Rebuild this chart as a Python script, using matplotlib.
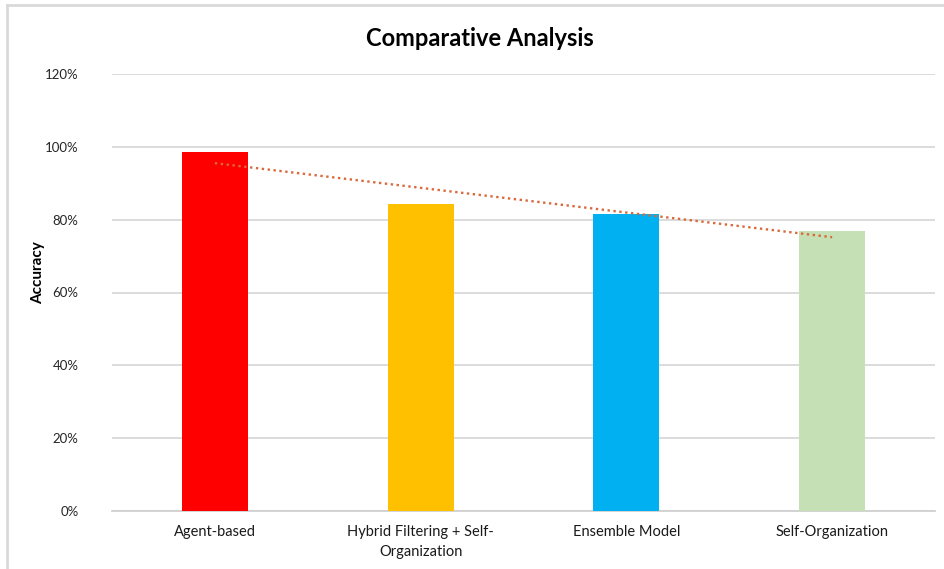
import matplotlib
matplotlib.use("Agg")
import matplotlib.pyplot as plt
import numpy as np
from matplotlib.lines import Line2D

categories = ["Agent-based", "Hybrid Filtering + Self-\nOrganization", "Ensemble Model", "Self-Organization"]
accuracy = [0.986, 0.843, 0.816, 0.769]
colors = ["#FF0000", "#FFC000", "#00B0F0", "#C5E0B4"]
yticks = [0, 0.2, 0.4, 0.6, 0.8, 1.0, 1.2]
ytick_labels = ["0%", "20%", "40%", "60%", "80%", "100%", "120%"]

plt.rcParams['font.family'] = ['Lato', 'DejaVu Sans']

fig = plt.figure(figsize=(9.44, 5.69), dpi=100)
ax = fig.add_axes([112/944, 1-511/569, (935-112)/944, (511-74)/569])

x = np.arange(len(categories))
ax.bar(x, accuracy, width=0.32, color=colors, zorder=3)

# linear trendline
coef = np.polyfit(x + 1, accuracy, 1)
trend = np.polyval(coef, x + 1)
ax.plot(x, trend, linestyle=(0, (1, 1.5)), color="#D9693A", linewidth=1.7, zorder=4)

ax.set_xlim(-0.5, 3.5)
ax.set_ylim(0, 1.2)
ax.set_yticks(yticks)
ax.set_yticklabels(ytick_labels, fontsize=9.5, color="#262626")
ax.set_xticks(x)
ax.set_xticklabels(categories, fontsize=10.5, color="#1a1a1a", linespacing=1.55)
ax.tick_params(axis='both', length=0)
ax.tick_params(axis='y', pad=24)
ax.tick_params(axis='x', pad=10)
ax.grid(axis='y', color="#D9D9D9", linewidth=1.3, zorder=0)
for s in ["top", "right", "left"]:
    ax.spines[s].set_visible(False)
ax.spines["bottom"].set_color("#D0D0D0")
ax.spines["bottom"].set_linewidth(1.3)

ax.set_ylabel("Accuracy", fontsize=11, fontweight='bold')
ax.yaxis.set_label_coords(-0.081, 0.545)
fig.text(0.5085, 1-38/569, "Comparative Analysis", ha='center', va='center', fontsize=17, fontweight='bold', color="#000000")

fig.lines.append(Line2D([7/944, 7/944], [0, 1-5/569], transform=fig.transFigure, color="#D9D9D9", linewidth=2))
fig.lines.append(Line2D([7/944, 1], [1-5/569, 1-5/569], transform=fig.transFigure, color="#D9D9D9", linewidth=2))

fig.savefig("out.png", dpi=100)
